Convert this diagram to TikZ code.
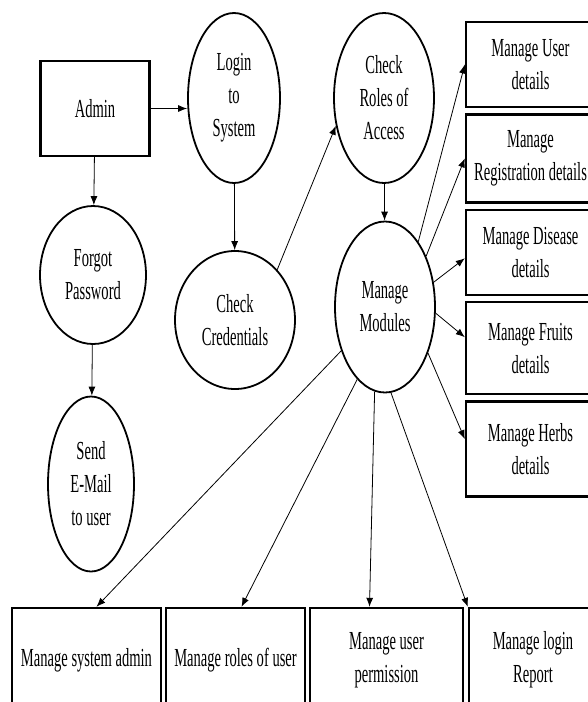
\documentclass[tikz,border=0pt]{standalone}
\usepackage{fontspec}
\setmainfont[FakeStretch=0.56]{Liberation Serif}
\usetikzlibrary{arrows.meta, shapes.geometric, positioning, calc}

\begin{document}
\begin{tikzpicture}[x=1pt, y=-1pt,
    every node/.style={font=\fontsize{26}{33}\selectfont, align=center},
    bubble/.style={ellipse, draw, line width=1.8pt, inner sep=0pt},
    ent/.style={rectangle, draw, line width=2.4pt, inner sep=0pt},
    flow/.style={-{Latex[length=9pt, width=7pt]}, line width=0.8pt}]
  \useasboundingbox (0,0) rectangle (588,702);
  \clip (0,0) rectangle (588,702);

  \node[ent, minimum width=109, minimum height=95] (admin) at (95,108.5) {Admin};

  \node[bubble, minimum width=92, minimum height=170] (login) at (234,98) {Login\\to\\System};
  \node[bubble, minimum width=106, minimum height=138] (forgot) at (93,275) {Forgot\\Password};
  \node[bubble, minimum width=86, minimum height=175] (send) at (91,484) {Send\\E-Mail\\to user};
  \node[bubble, minimum width=120, minimum height=138] (cc) at (235,320) {Check\\Credentials};
  \node[bubble, minimum width=100, minimum height=170] (cr) at (384,98) {Check\\Roles of\\Access};
  \node[bubble, minimum width=100, minimum height=171] (mm) at (385,307) {Manage\\Modules};

  % right column
  \node[ent, minimum width=129, minimum height=85] (user) at (530.5,64.5) {Manage User\\details};
  \node[ent, minimum width=129, minimum height=88, below=5pt of user] (reg) {Manage\\Registration details};
  \node[ent, minimum width=129, minimum height=85, below=5pt of reg] (dis) {Manage Disease\\details};
  \node[ent, minimum width=129, minimum height=92, below=5pt of dis] (fru) {Manage Fruits\\details};
  \node[ent, minimum width=129, minimum height=95, below=5pt of fru] (herb) {Manage Herbs\\details};

  % bottom row
  \node[ent, minimum width=149, minimum height=104] (sa) at (86.5,660) {Manage system admin};
  \node[ent, minimum width=139, minimum height=104] (ru) at (235.5,660) {Manage roles of user};
  \node[ent, minimum width=153, minimum height=104] (up) at (386.5,660) {Manage user\\permission};
  \node[ent, minimum width=128, minimum height=104] (lr) at (533,660) {Manage login\\Report};

  \draw[flow] (admin.east) -- (admin.east -| login.west);
  \draw[flow] (admin) -- (forgot);
  \draw[flow] (forgot) -- (send);
  \draw[flow] (login) -- (cc);
  \draw[flow] (cc.50) -- (cr.210);
  \draw[flow] (cr) -- (mm);

  \draw[flow] (mm.63) -- (user.west);
  \draw[flow] (mm.51) -- (reg.west);
  \draw[flow] (mm.27) -- ([yshift=-6pt]dis.west);
  \draw[flow] (mm.-7) -- ([yshift=11pt]fru.west);
  \draw[flow] (mm.-47) -- ([yshift=10pt]herb.west);

  \draw[flow] (mm.-135) -- ([xshift=10pt]sa.north);
  \draw[flow] (mm.-111) -- ([xshift=6pt]ru.north);
  \draw[flow] (mm.-97) -- ([xshift=-17pt]up.north);
  \draw[flow] (mm.-86) -- (lr.north west);
\end{tikzpicture}
\end{document}
